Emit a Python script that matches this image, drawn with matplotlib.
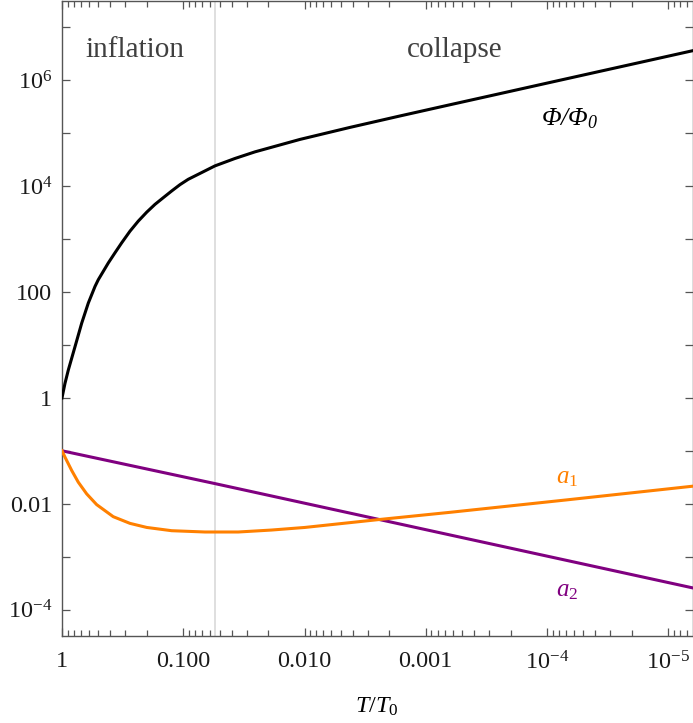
import matplotlib
matplotlib.use("Agg")
import matplotlib.pyplot as plt
from matplotlib.ticker import FixedLocator, FixedFormatter, NullFormatter

plt.rcParams['font.family'] = ['Liberation Serif', 'DejaVu Serif']
plt.rcParams['mathtext.fontset'] = 'custom'
plt.rcParams['mathtext.rm'] = 'Liberation Serif'
plt.rcParams['mathtext.it'] = 'Liberation Serif:italic'
plt.rcParams['mathtext.sf'] = 'Liberation Serif:italic'

# ---- data ----
phi_T = [1.0, 0.945, 0.887, 0.781, 0.688, 0.607, 0.534, 0.502, 0.415, 0.366, 0.322,
         0.275, 0.235, 0.200, 0.171, 0.146, 0.1247, 0.1064, 0.091, 0.0705, 0.0548,
         0.0375, 0.0256, 0.0109, 0.00423, 0.00164, 0.000632, 0.000245, 9.48e-5,
         3.67e-5, 1.42e-5, 6.31e-6]
phi_v = [1.0, 1.88, 3.36, 9.29, 25.8, 61.8, 128, 171, 355, 550, 851,
         1413, 2188, 3236, 4540, 6080, 8110, 10700, 13500, 18100, 24200,
         33400, 44600, 76600, 129000, 212000, 346000, 561000, 912000,
         1.48e6, 2.40e6, 3.63e6]

a1_T = [1.0, 0.945, 0.832, 0.734, 0.626, 0.518, 0.378, 0.275, 0.200, 0.1247,
        0.0662, 0.0352, 0.0187, 0.00993, 0.0051, 0.00239, 0.000632, 6.9e-5, 6.31e-6]
a1_v = [0.1, 0.0759, 0.0425, 0.0255, 0.01535, 0.00962, 0.00569, 0.00425, 0.00356,
        0.00309, 0.00292, 0.00292, 0.00318, 0.00356, 0.00419, 0.00504, 0.00687,
        0.0118, 0.0214]

a2_T = [1.0, 0.0548, 0.00993, 0.000632, 6.31e-6]
a2_v = [0.1, 0.024, 0.0102, 0.00257, 2.57e-4]

T_boundary = 0.0548

x_major = [1, 0.1, 0.01, 0.001, 1e-4, 1e-5]
x_labels = ['1', '0.100', '0.010', '0.001', r'$10^{-4}$', r'$10^{-5}$']
y_major = [1e-4, 1e-2, 1, 100, 1e4, 1e6]
y_labels = [r'$10^{-4}$', '0.01', '1', '100', r'$10^{4}$', r'$10^{6}$']
y_minor = [1e-3, 0.1, 10, 1e3, 1e5, 1e7]

fig = plt.figure(figsize=(6.93, 7.23), dpi=100)
ax = fig.add_axes([62/693, 1-636/723, (692.5-62)/693, (636-1)/723])

ax.set_xscale('log')
ax.set_yscale('log')
ax.set_xlim(1, 10**-5.2)
ax.set_ylim(10**-4.5, 10**7.5)

ax.axvline(T_boundary, color='#dcdcdc', lw=1.3, zorder=1)

ax.plot(phi_T, phi_v, color='black', lw=2.2, zorder=3, solid_joinstyle='round')
ax.plot(a2_T, a2_v, color='#800080', lw=2.2, zorder=3, solid_joinstyle='round')
ax.plot(a1_T, a1_v, color='#ff8000', lw=2.2, zorder=3, solid_joinstyle='round')

# ticks
xminor = [k * 10.0**e for e in range(-6, 1) for k in range(2, 10)]
ax.xaxis.set_major_locator(FixedLocator(x_major))
ax.xaxis.set_major_formatter(FixedFormatter(x_labels))
ax.xaxis.set_minor_locator(FixedLocator(xminor))
ax.xaxis.set_minor_formatter(NullFormatter())
ax.yaxis.set_major_locator(FixedLocator(y_major))
ax.yaxis.set_major_formatter(FixedFormatter(y_labels))
ax.yaxis.set_minor_locator(FixedLocator(y_minor))
ax.yaxis.set_minor_formatter(NullFormatter())

frame = '#555555'
for s in ax.spines.values():
    s.set_color(frame)
    s.set_linewidth(1.0)
ax.tick_params(which='both', direction='in', top=True, right=True,
               color=frame, width=0.9, labelsize=17.5, labelcolor='#1a1a1a')
ax.tick_params(axis='y', which='both', length=6)
ax.tick_params(axis='x', which='major', length=6, pad=11)
ax.tick_params(axis='x', which='minor', length=4)
ax.tick_params(axis='y', which='major', pad=7)

ax.set_xlabel(r'$T/T_0$', fontsize=17.5, labelpad=15)

ax.text(0.25, 10**6.58, 'inflation', fontsize=21, color='#404040', ha='center', va='center')
ax.text(5.75e-4, 10**6.58, 'collapse', fontsize=21, color='#404040', ha='center', va='center')
ax.text(6.5e-5, 1.86e5, r'$\mathsf{\Phi/\Phi_0}$', fontsize=18.5, color='black',
        ha='center', va='center')
ax.text(6.8e-5, 10**-1.505, r'$a_1$', fontsize=18, color='#ff8000', ha='center', va='center')
ax.text(6.8e-5, 10**-3.649, r'$a_2$', fontsize=18, color='#800080', ha='center', va='center')

fig.savefig('out.png', dpi=100)
